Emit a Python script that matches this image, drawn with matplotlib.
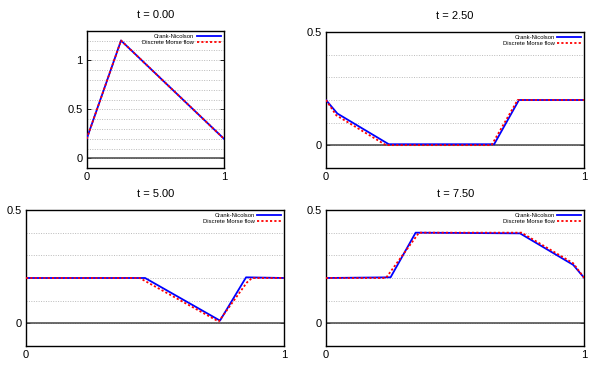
import matplotlib
matplotlib.use("Agg")
import matplotlib.pyplot as plt
from matplotlib.ticker import MultipleLocator

plt.rcParams['font.family'] = ['Liberation Sans', 'DejaVu Sans']

titles = ["t = 0.00", "t = 2.50", "t = 5.00", "t = 7.50"]
labels = ["Crank-Nicolson", "Discrete Morse flow"]

# t = 0.00
cn0_x = [0, 0.25, 1]
cn0_y = [0.2, 1.2, 0.2]
dm0_x = [0, 0.25, 1]
dm0_y = [0.2, 1.2, 0.2]
# t = 2.50
cn1_x = [0, 0.044, 0.243, 0.651, 0.747, 1]
cn1_y = [0.2, 0.14, 0.004, 0.004, 0.2, 0.2]
dm1_x = [0, 0.04, 0.232, 0.641, 0.742, 1]
dm1_y = [0.2, 0.132, 0.0, 0.0, 0.2, 0.2]
# t = 5.00
cn2_x = [0, 0.461, 0.751, 0.852, 1]
cn2_y = [0.2, 0.2, 0.012, 0.203, 0.2]
dm2_x = [0, 0.44, 0.746, 0.855, 0.875, 1]
dm2_y = [0.2, 0.2, 0.008, 0.18, 0.2, 0.2]
# t = 7.50
cn3_x = [0, 0.25, 0.347, 0.751, 0.957, 1]
cn3_y = [0.2, 0.203, 0.4, 0.397, 0.258, 0.2]
dm3_x = [0, 0.232, 0.36, 0.757, 0.957, 1]
dm3_y = [0.2, 0.2, 0.4, 0.4, 0.265, 0.2]

series = [(cn0_x, cn0_y, dm0_x, dm0_y), (cn1_x, cn1_y, dm1_x, dm1_y),
          (cn2_x, cn2_y, dm2_x, dm2_y), (cn3_x, cn3_y, dm3_x, dm3_y)]
ylims = [(-0.1, 1.3), (-0.1, 0.5), (-0.1, 0.5), (-0.1, 0.5)]
yticks = [[0, 0.5, 1], [0, 0.5], [0, 0.5], [0, 0.5]]

W, H = 604, 373
fig = plt.figure(figsize=(W / 100, H / 100), dpi=100)
boxes = [(86.7, 224.0, 30.7, 168.3), (326.0, 584.3, 32.3, 167.7),
         (26.0, 284.3, 210.0, 346.0), (326.0, 584.3, 210.0, 346.0)]

for i, (l, r, t, b) in enumerate(boxes):
    ax = fig.add_axes([l / W, (H - b) / H, (r - l) / W, (b - t) / H])
    cx, cy, dx, dy = series[i]
    ax.set_xlim(0, 1)
    ax.set_ylim(*ylims[i])
    ax.yaxis.set_minor_locator(MultipleLocator(0.1))
    ax.grid(which='both', axis='y', color='#bbbbbb', linestyle=(0, (1, 1.5)), linewidth=0.7)
    ax.set_axisbelow(True)
    ax.axhline(0, color='#444444', linewidth=1.1, zorder=1.5)
    ax.plot(cx, cy, color='#0000ff', linewidth=1.3, label=labels[0], zorder=3)
    ax.plot(dx, dy, color='#ff0000', linewidth=1.3, linestyle=(0, (1.2, 1.2)),
            label=labels[1], zorder=4)
    ax.set_xticks([0, 1])
    ax.set_xticklabels(['0', '1'])
    ax.set_yticks(yticks[i])
    ax.set_yticklabels([('%g' % v) for v in yticks[i]])
    ax.tick_params(which='major', direction='in', length=3, width=0.6,
                   left=True, right=True, top=False, bottom=False,
                   labelsize=8, pad=3)
    ax.tick_params(which='minor', length=0)
    for s in ax.spines.values():
        s.set_linewidth(1.0)
        s.set_color('black')
    leg = ax.legend(loc='upper right', markerfirst=False, frameon=False,
                    prop={'family': 'Liberation Sans', 'size': 4.2},
                    handlelength=4.2, handletextpad=0.4, labelspacing=0.15,
                    borderaxespad=0.3, borderpad=0.2)
    for txt in leg.get_texts():
        txt.set_ha('right')
    fig.text(((l + r) / 2) / W, 1 - (t - 16) / H, titles[i], ha='center', va='center',
             fontsize=8)

fig.savefig('out.png', dpi=100)
